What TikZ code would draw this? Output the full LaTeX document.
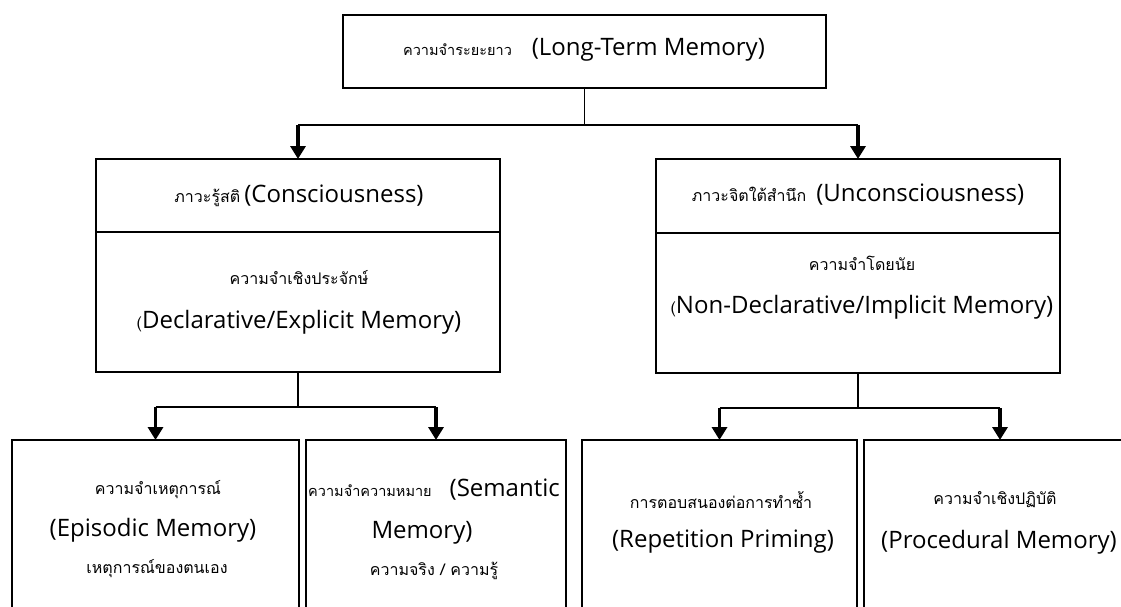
\documentclass[tikz,border=0pt]{standalone}
\usepackage{fontspec}
\setmainfont{Open Sans}
\newfontfamily\thai[Script=Thai]{Loma}
\usetikzlibrary{arrows.meta}
\newcommand\thtxt[1]{{\thai\fontsize{16}{19}\selectfont #1}}
\begin{document}
\begin{tikzpicture}[x=1pt,y=-1pt,
  box/.style={draw, line width=1.8pt, inner sep=0pt, outer sep=0pt, anchor=north west},
  conn/.style={line width=1.5pt},
  arr/.style={line width=3.5pt, -{Triangle[length=13pt,width=15pt]}},
  txt/.style={inner sep=0pt, font=\fontsize{24}{28}\selectfont}]
\useasboundingbox (0,0) rectangle (1121,606);
\clip (0,0) rectangle (1121,606);
% boxes
\node[box, minimum width=483pt, minimum height=73pt] (top) at (343,15) {};
\node[box, minimum width=404pt, minimum height=73pt] (consH) at (96,159) {};
\node[box, minimum width=404pt, minimum height=140pt] (consB) at (96,232) {};
\node[box, minimum width=404pt, minimum height=74pt] (unconH) at (656,159) {};
\node[box, minimum width=404pt, minimum height=140pt] (unconB) at (656,233) {};
\node[box, minimum width=287pt, minimum height=200pt] (epi) at (12,440) {};
\node[box, minimum width=260pt, minimum height=200pt] (sem) at (306,440) {};
\node[box, minimum width=275pt, minimum height=200pt] (rep) at (582,440) {};
\node[box, minimum width=272pt, minimum height=200pt] (proc) at (864,440) {};
% texts
\node[txt] (t0) at (584,50) {{\thai\fontsize{14.5}{17}\selectfont ความจำระยะยาว}\hspace{20pt}(Long-Term Memory)};
\node[txt] (t1) at (299,196) {\thtxt{ภาวะรู้สติ}\hspace{4pt}(Consciousness)};
\node[txt] (t2) at (299,278) {\thtxt{ความจำเชิงประจักษ์}};
\node[txt] (t3) at (299,322) {\thtxt{(}Declarative/Explicit Memory)};
\node[txt] (t4) at (858,195) {\thtxt{ภาวะจิตใต้สำนึก}\hspace{10pt}(Unconsciousness)};
\node[txt] (t5) at (862,263) {\thtxt{ความจำโดยนัย}};
\node[txt] (t6) at (862,307) {\thtxt{(}Non-Declarative/Implicit Memory)};
\node[txt] (t7) at (158,490) {\thtxt{ความจำเหตุการณ์}};
\node[txt] (t8) at (153,530) {(Episodic Memory)};
\node[txt] (t9) at (157,569) {\thtxt{เหตุการณ์ของตนเอง}};
\node[txt, anchor=west] (t10) at (308,490) {{\thai\fontsize{14.5}{17}\selectfont ความจำความหมาย}\hspace{18pt}(Semantic};
\node[txt] (t11) at (422,533) {Memory)};
\node[txt] (t12) at (434,571) {\thtxt{ความจริง / ความรู้}};
\node[txt] (t13) at (721,500) {\thtxt{การตอบสนองต่อการทำซ้ำ}};
\node[txt] (t14) at (723,542) {(Repetition Priming)};
\node[txt] (t15) at (995,500) {\thtxt{ความจำเชิงปฏิบัติ}};
\node[txt] (t16) at (999,542) {(Procedural Memory)};
% connectors
\draw[conn] (top.south) -- (top.south |- 0,125);
\draw[conn] (consH.north |- 0,125) -- (unconH.north |- 0,125);
\draw[arr] (consH.north |- 0,125) -- (consH.north);
\draw[arr] (unconH.north |- 0,125) -- (unconH.north);
\draw[conn] (consB.south) -- (consB.south |- 0,407);
\draw[conn] (epi.north |- 0,407) -- (sem.north |- 0,407);
\draw[arr] (epi.north |- 0,407) -- (epi.north);
\draw[arr] (sem.north |- 0,407) -- (sem.north);
\draw[conn] (unconB.south) -- (unconB.south |- 0,408);
\draw[conn] (rep.north |- 0,408) -- (proc.north |- 0,408);
\draw[arr] (rep.north |- 0,408) -- (rep.north);
\draw[arr] (proc.north |- 0,408) -- (proc.north);
\end{tikzpicture}
\end{document}
